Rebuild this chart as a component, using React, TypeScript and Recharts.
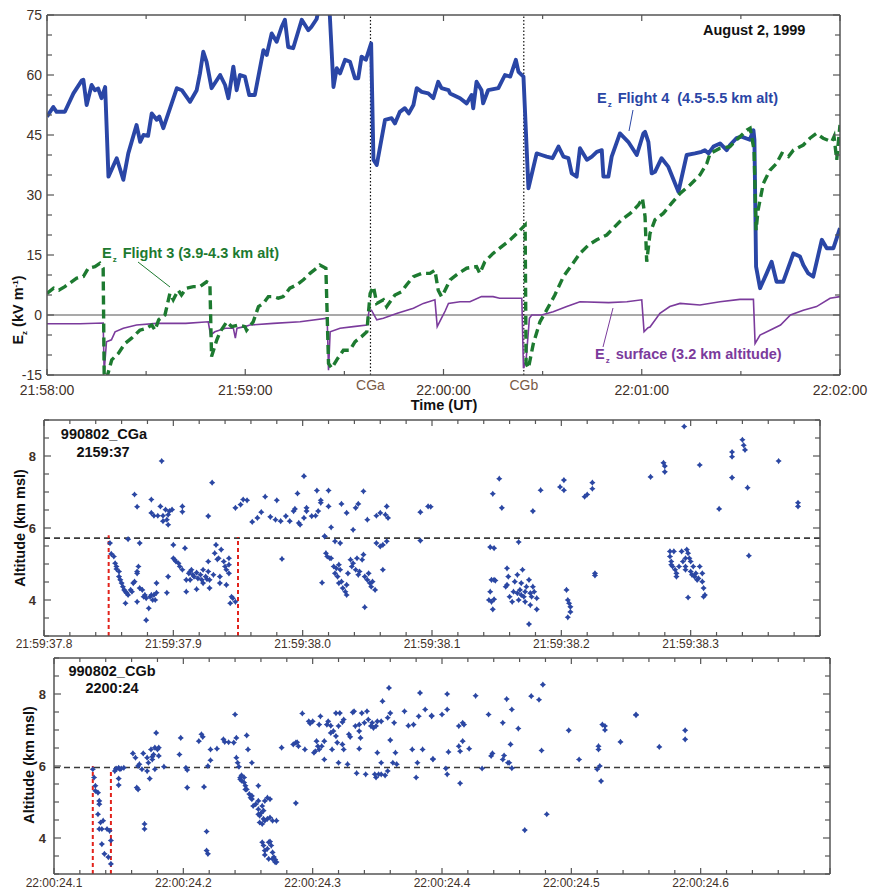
import React from "react";
import {
  Line,
  LineChart,
  ReferenceLine,
  Scatter,
  ScatterChart,
  XAxis,
  YAxis,
} from "recharts";

type Pair = [number, number];

const FONT = '"Liberation Sans", Arial, Helvetica, sans-serif';
const AXIS = "#555";
const TICK_TEXT = "#3f3128";
const CG_TEXT = "#7a5a46";
const BLUE = "#2a46a6";
const GREEN = "#1d7a30";
const PURPLE = "#7b3b9c";
const DOT = "#2b47a3";
const RED = "#e2231c";

// Ez records, seconds after 21:58:00 UT -> kV/m
const FLIGHT4: Pair[] = [
  [0, 49.6], [1.9, 52], [2.9, 50.8], [5.4, 50.8], [8, 55.4], [10.5, 58.6], [11, 58.8], [12, 52.5],
  [13.5, 57.5], [14.5, 56.2], [15.5, 56.6], [16.5, 54.2], [17.6, 57], [18.6, 34.6], [21.1, 39.2],
  [23.1, 33.8], [24.6, 40.4], [27.1, 47.5], [28.2, 43.3], [29.2, 45], [30.6, 44.8], [31.7, 50.4],
  [33.2, 48.8], [34, 49.6], [35.2, 46.7], [39.3, 56.7], [40.8, 56.2], [43.3, 53.3], [45.3, 56.2],
  [46.3, 60.4], [47.3, 65.8], [48.3, 63.3], [49.8, 56.7], [52.4, 60], [53.9, 57.5], [54.9, 54.2],
  [56.4, 62.1], [57.4, 56.2], [58.4, 60], [59.9, 59.6], [61.2, 55], [62.9, 55], [65.5, 66.2],
  [66.5, 65], [68, 70.4], [69.5, 68.3], [71, 72], [72, 73.8], [73, 67], [74.5, 66.7], [77.1, 73.8],
  [78.1, 72.5], [79.1, 71.2], [80, 72], [81.6, 74], [82.6, 78], [85.4, 78], [85.9, 70], [86.7, 57],
  [87.7, 61.7], [88.7, 60.4], [90.2, 63.8], [91.7, 63.3], [93.2, 59.2], [94.2, 59.2], [95.2, 64.6],
  [96.5, 63.8], [98.1, 67.9], [98.8, 38.8], [99.8, 37.5], [102.3, 48.8], [104.3, 49.2], [105.3, 47.9],
  [106.8, 50.8], [108.3, 51.7], [109.5, 50.4], [110.9, 52.5], [111.9, 56.7], [113.4, 55.8],
  [115.4, 55.4], [116.9, 54.2], [118.4, 58.3], [119.4, 56.7], [121.5, 56.2], [122, 55.4], [125, 54.2],
  [127, 52.9], [128.5, 55], [129, 51.7], [130, 58.3], [131.5, 56.2], [132, 52.9], [133.5, 56.2],
  [136.6, 56.7], [138.6, 60], [140.2, 59.6], [141.9, 63.8], [142.7, 60.8], [144.2, 59.6],
  [145.7, 31.7], [148.2, 40.4], [149.7, 40], [151.2, 39.6], [153, 39.2], [154.8, 42.1], [156.3, 39.6],
  [157.8, 39.2], [158.8, 35.4], [160.3, 34.6], [161.3, 41.7], [163.4, 38.8], [164.9, 39.6],
  [166.4, 40.8], [167.9, 41.2], [168.4, 34.6], [169.9, 34.6], [170.9, 39.6], [173.4, 45.4],
  [175.9, 43.3], [178.5, 40], [180.5, 45.4], [181, 45.8], [182, 43.3], [183, 35.4], [184, 35.8],
  [186, 39.2], [188, 37.1], [191.1, 30.8], [193.6, 40], [196.1, 40.4], [198.1, 40.8], [199.1, 41.2],
  [200.2, 40.4], [201.7, 42.1], [203.7, 42.9], [205.7, 41.2], [206.7, 42.5], [208.7, 44.2],
  [210.2, 44.6], [212.7, 43.8], [213.8, 46.2], [214.1, 43.8], [214.6, 12.1], [215.8, 6.7],
  [217.8, 10.4], [219.3, 13.3], [220.8, 8.3], [222.8, 8.3], [225.9, 15.4], [227.9, 14.6],
  [228.9, 12.5], [230.4, 10.4], [231.9, 9.6], [234.5, 18.8], [236, 16.7], [238, 16.7], [240, 21.7],
];

const FLIGHT3: Pair[] = [
  [0, 5.4], [2, 6.7], [3.6, 6.2], [5.4, 7.1], [9, 9.2], [11, 9.6], [12.5, 11.7], [14.5, 12.1],
  [16, 12.9], [17, 11.7], [17.3, -14.6], [18, -16], [19.6, -11.2], [21.6, -9.6], [23.6, -7.1],
  [25.6, -5.8], [28.1, -3.8], [30.2, -3.3], [31.7, -2.5], [32.7, -3.8], [33.8, -1.2], [35.7, 0],
  [37.2, 5.4], [38.2, 3.8], [39.7, 6.2], [40.7, 5], [42.2, 6.7], [44.3, 7.1], [46.3, 7.1], [48.3, 8.3],
  [49.3, 7.9], [49.8, -10.4], [51.4, -6.2], [52.4, -4.2], [54.4, -1.7], [55.9, -2.9], [57.9, -2.5],
  [59.9, -2.9], [60.4, -3.8], [62.4, -1.7], [64, 2.1], [65.5, 2.9], [67, 4.6], [68.5, 4.6], [70, 4.2],
  [71.5, 4.6], [73.5, 6.7], [75.5, 7.5], [77.6, 8.8], [79.6, 10.4], [81.6, 11.7], [82.6, 12.5],
  [84.4, 11.7], [85.2, -12.1], [86.2, -13.3], [87.7, -11.2], [89.7, -8.8], [91.7, -8.8], [93.2, -6.7],
  [95.2, -5.4], [96.8, -4.2], [97.8, 5.4], [98.8, 7.1], [99.8, 2.9], [101.8, 3.8], [102.8, 2.1],
  [105.3, 5], [107.3, 5.8], [108.8, 7.5], [110.9, 9.6], [113.4, 10.4], [115.9, 10.4], [117.4, 11.2],
  [118.4, 6.2], [119.4, 4.6], [120, 5.4], [122, 8.8], [124.5, 10.4], [127, 11.7], [130, 12.1],
  [131, 10.4], [132.5, 13.3], [135, 15.4], [137.6, 17.1], [140.2, 18.8], [142.2, 20.4], [144.7, 22.5],
  [145, -12.1], [145.7, -13.3], [147.2, -7.1], [149.2, -1.7], [151.2, 1.2], [153.7, 5], [156.3, 9.6],
  [158.8, 12.5], [161.3, 15.4], [163.9, 17.5], [166.4, 18.8], [169.4, 20], [171.4, 21.7],
  [173.9, 23.8], [176.5, 25.4], [179, 27.5], [180.2, 29.2], [181, 24.6], [181.5, 13.3], [182.5, 20.4],
  [184, 23.8], [186.5, 25.4], [189, 27.9], [191.6, 30.4], [194.6, 32.5], [197.6, 35], [199.7, 37.9],
  [200.7, 40.4], [203.7, 41.7], [206.7, 42.1], [209.2, 44.2], [211.8, 46.2], [212.8, 46.7], [214, 41.2],
  [214.6, 21.2], [215.2, 26.2], [216.8, 32.9], [218.8, 36.2], [220.8, 37.9], [222.4, 40.4],
  [224.4, 39.6], [225.9, 41.2], [228.9, 42.5], [230.9, 44.2], [232.9, 45.4], [234.9, 44.2],
  [237.5, 43.3], [238.2, 44.6], [239, 38.8], [240, 47.5],
];

const SURFACE: Pair[] = [
  [0, -2.2], [10, -2.2], [17, -2], [17.3, -14.2], [18, -6.7], [19.5, -6.2], [20.6, -4.2], [23.1, -3.3],
  [27.1, -2.5], [33.2, -2.1], [42, -2.1], [48.8, -1.7], [49.5, -5], [50.8, -4.2], [54, -3.3],
  [56.4, -3.3], [57, -5.8], [57.5, -3.3], [59.9, -2.9], [61.4, -2.5], [68.5, -2.1], [76.6, -1.7],
  [84.8, -0.8], [85.2, -13.8], [85.7, -4.2], [88.7, -3.3], [92.7, -2.9], [96.8, -2.5], [97.5, 1.2],
  [98.2, 1.2], [99.8, -1.2], [101.8, -0.8], [105.8, 0.4], [110.9, 1.7], [113.9, 2.9], [117.4, 3.8],
  [118.1, -2.9], [119.4, -0.8], [120.5, 1], [121.5, 2.9], [125, 3.3], [128, 3.3], [131.5, 4.6],
  [135, 4.6], [137, 4.2], [143.7, 4.2], [144.2, -13.3], [145, -11.2], [146, -0.8], [146.7, 0],
  [149.7, 0], [153.2, 0.8], [157.3, 2.1], [161.3, 3.3], [170, 3.1], [175.5, 3.3], [180, 3.8],
  [180.7, -4.2], [181.9, -3.2], [182.5, -3], [185.5, 0.4], [188.5, 2.1], [191.6, 2.9], [197.6, 2.5],
  [203.7, 3.3], [209.7, 3.9], [213.8, 3.9], [214.3, -7.1], [215.8, -5], [218.8, -3.8], [222, -2.5],
  [225, 0], [228.9, 1.2], [232.9, 2.1], [237, 4.2], [240, 4.6],
];

const CGA_SEC = 97.9;
const CGB_SEC = 144.3;

const TIME_TICKS = [0, 30, 60, 90, 120, 150, 180, 210, 240];
const TIME_LABELS: Record<number, string> = {
  0: "21:58:00",
  60: "21:59:00",
  120: "22:00:00",
  180: "22:01:00",
  240: "22:02:00",
};
const CG_LABELS: Record<number, string> = { [CGA_SEC]: "CGa", [CGB_SEC]: "CGb" };
const EZ_TICKS = [-15, -10, -5, 0, 5, 10, 15, 20, 25, 30, 35, 40, 45, 50, 55, 60, 65, 70, 75];
const EZ_LABELS = [-15, 0, 15, 30, 45, 60, 75];

// VHF source locations: seconds within the minute -> altitude km msl
const CGA_SOURCES: Pair[] = [
  [37.87, 6.93], [37.872, 6.59], [37.883, 6.79], [37.883, 6.42], [37.885, 6.34], [37.888, 6.34],
  [37.89, 6.6], [37.891, 7.86], [37.892, 6.19], [37.892, 6.34], [37.894, 6.51], [37.895, 6.23],
  [37.896, 6.09], [37.896, 6.37], [37.897, 6.47], [37.899, 6.51], [37.907, 6.6], [37.907, 6.45],
  [37.927, 6.33], [37.93, 7.26],
  [37.948, 6.56], [37.952, 6.65], [37.954, 6.79], [37.957, 6.77], [37.961, 6.17], [37.965, 6.28],
  [37.968, 6.44], [37.971, 6.87], [37.975, 6.31], [37.979, 6.23], [37.98, 6.77], [37.983, 6.19],
  [37.984, 5.14], [37.987, 6.33], [37.99, 6.19], [37.993, 6.47], [37.994, 6.53], [37.996, 6.96],
  [37.997, 6.14], [37.998, 6.09], [38.001, 6.28], [38.001, 7.44], [38.003, 6.56], [38.003, 6.47],
  [38.007, 6.33], [38.01, 6.34], [38.011, 7.04], [38.012, 6.47], [38.014, 6.7], [38.014, 6.77],
  [38.02, 7.04], [38.02, 6.6], [38.022, 6.02], [38.017, 5.77], [38.03, 6.67], [38.034, 6.42],
  [38.039, 5.95], [38.041, 6.56], [38.043, 6.67], [38.047, 7.02], [38.05, 6.23], [38.057, 6.34],
  [38.06, 6.42], [38.064, 6.37], [38.065, 6.6], [38.066, 6.28], [38.091, 6.44], [38.091, 5.65],
  [38.097, 6.6],
  [37.851, 5.58], [37.852, 5.28], [37.854, 5.21], [37.855, 5.02], [37.856, 4.93], [37.856, 4.86],
  [37.858, 4.79], [37.858, 4.65], [37.859, 4.56], [37.86, 4.47], [37.861, 4.37], [37.862, 4.28],
  [37.863, 4.23], [37.864, 4.19], [37.865, 4.14], [37.863, 3.91], [37.867, 4.28], [37.868, 4.23],
  [37.869, 4.47], [37.87, 4.51], [37.872, 3.95], [37.872, 4.79], [37.873, 4.93], [37.874, 4.33],
  [37.876, 4.28], [37.877, 4.09], [37.878, 4.14], [37.879, 4.05], [37.881, 3.77], [37.882, 4.09],
  [37.883, 4.14], [37.884, 4.0], [37.885, 4.14], [37.886, 4.0], [37.887, 4.2], [37.879, 3.44],
  [37.874, 5.58], [37.887, 4.47], [37.872, 4.74], [37.865, 5.69],
  [37.895, 4.2], [37.896, 4.65], [37.9, 5.53], [37.901, 5.12], [37.902, 5.07], [37.904, 5.02],
  [37.905, 4.93], [37.907, 4.84], [37.9, 5.16], [37.909, 5.44], [37.91, 4.56], [37.912, 4.74],
  [37.913, 4.79], [37.914, 4.84], [37.915, 4.7], [37.916, 4.65], [37.918, 4.76], [37.919, 4.6],
  [37.921, 4.7], [37.922, 4.56], [37.923, 4.84], [37.925, 4.65], [37.926, 4.58], [37.927, 4.79],
  [37.918, 4.3], [37.927, 5.07], [37.928, 4.56], [37.931, 4.7], [37.932, 5.3], [37.933, 5.53],
  [37.934, 5.13], [37.935, 5.16], [37.936, 4.65], [37.937, 5.4], [37.939, 5.07], [37.94, 4.93],
  [37.941, 4.84], [37.943, 4.98], [37.943, 5.16], [37.941, 4.42], [37.936, 4.47], [37.928, 4.33],
  [37.943, 4.74], [37.944, 3.91], [37.945, 4.09], [37.946, 4.05], [37.948, 3.95], [37.91, 4.23],
  [37.913, 4.56], [37.923, 4.47],
  [38.015, 4.48], [38.017, 5.77], [38.018, 5.3], [38.019, 5.21], [38.021, 5.16], [38.022, 5.16],
  [38.024, 4.93], [38.025, 4.74], [38.026, 4.88], [38.027, 4.65], [38.028, 4.98], [38.028, 4.47],
  [38.029, 4.84], [38.03, 4.51], [38.031, 4.33], [38.033, 4.23], [38.034, 4.14], [38.035, 4.74],
  [38.037, 5.12], [38.038, 4.93], [38.039, 5.02], [38.041, 4.84], [38.042, 5.16], [38.043, 4.7],
  [38.044, 4.79], [38.046, 5.12], [38.047, 5.26], [38.048, 4.65], [38.05, 4.56], [38.051, 4.74],
  [38.052, 4.47], [38.053, 4.37], [38.048, 3.8], [38.025, 5.63], [38.029, 5.58], [38.057, 5.58],
  [38.06, 5.49], [38.062, 5.53], [38.065, 5.63], [38.034, 4.42], [38.054, 4.51], [38.056, 4.28],
  [38.062, 4.84],
  [38.099, 6.59], [38.147, 6.95], [38.152, 7.37], [38.154, 6.56], [38.178, 6.47], [38.184, 7.05],
  [38.199, 7.14], [38.202, 7.33], [38.202, 7.05], [38.218, 6.87], [38.22, 6.93], [38.224, 7.26],
  [38.224, 7.09], [38.269, 7.42], [38.279, 7.81], [38.28, 7.72], [38.28, 7.56], [38.295, 8.82],
  [38.307, 7.75], [38.322, 6.53], [38.332, 8.11], [38.332, 7.98], [38.332, 7.4], [38.34, 8.45],
  [38.341, 8.3], [38.342, 8.17], [38.344, 7.12], [38.368, 7.86], [38.383, 6.7], [38.383, 6.6],
  [38.145, 5.47], [38.148, 5.44], [38.167, 5.61], [38.345, 5.23],
  [38.145, 4.23], [38.144, 4.0], [38.146, 4.56], [38.148, 4.56], [38.149, 4.54], [38.146, 3.95],
  [38.147, 3.74], [38.148, 4.02], [38.158, 4.88], [38.157, 4.37], [38.159, 4.65], [38.16, 4.09],
  [38.162, 3.95], [38.163, 4.23], [38.164, 4.51], [38.166, 4.19], [38.166, 4.7], [38.168, 4.28],
  [38.169, 4.14], [38.169, 4.47], [38.17, 4.84], [38.171, 4.09], [38.172, 4.23], [38.173, 4.37],
  [38.175, 4.56], [38.176, 4.19], [38.176, 3.86], [38.177, 4.09], [38.178, 4.37], [38.179, 4.23],
  [38.181, 4.05], [38.181, 3.74], [38.175, 3.33], [38.158, 4.42], [38.167, 4.0], [38.172, 3.95],
  [38.204, 4.28], [38.205, 4.0], [38.206, 3.91], [38.207, 3.81], [38.207, 3.67], [38.205, 3.52],
  [38.226, 4.74], [38.226, 4.68],
  [38.284, 5.35], [38.284, 5.21], [38.285, 5.07], [38.285, 4.98], [38.286, 4.93], [38.287, 5.35],
  [38.288, 4.84], [38.289, 4.74], [38.289, 4.65], [38.293, 5.35], [38.294, 5.07], [38.296, 4.93],
  [38.296, 4.84], [38.297, 5.4], [38.298, 5.3], [38.299, 5.16], [38.3, 5.07], [38.3, 4.79],
  [38.301, 4.7], [38.302, 4.93], [38.303, 4.65], [38.304, 4.74], [38.305, 4.56], [38.306, 4.6],
  [38.307, 4.93], [38.309, 4.74], [38.309, 4.51], [38.31, 4.33], [38.311, 4.14], [38.31, 4.09],
  [38.298, 4.07], [38.296, 5.16], [38.291, 4.93],
];

const CGB_SOURCES: Pair[] = [
  [24.13, 5.91], [24.131, 5.68], [24.132, 5.45], [24.132, 5.31], [24.134, 5.26], [24.135, 5.03],
  [24.135, 4.94], [24.134, 4.66], [24.136, 4.43], [24.137, 4.25], [24.135, 4.25], [24.138, 4.48],
  [24.137, 3.83], [24.139, 3.56], [24.141, 4.25], [24.142, 3.47], [24.144, 3.28], [24.144, 3.93],
  [24.143, 4.2],
  [24.147, 5.86], [24.148, 5.93], [24.148, 5.91], [24.15, 5.95], [24.15, 5.65], [24.151, 5.91],
  [24.152, 5.93], [24.15, 5.47], [24.154, 5.95], [24.161, 6.35], [24.163, 6.23], [24.164, 5.4],
  [24.165, 5.35], [24.165, 6.0], [24.166, 6.05], [24.168, 5.91], [24.169, 6.35], [24.17, 4.39],
  [24.17, 4.25], [24.172, 6.23], [24.172, 5.86], [24.173, 6.09], [24.174, 5.65], [24.175, 6.46],
  [24.176, 6.26], [24.176, 6.18], [24.177, 6.32], [24.178, 5.91], [24.178, 6.51], [24.179, 6.92],
  [24.18, 6.46], [24.181, 6.28], [24.181, 6.51], [24.185, 5.98], [24.197, 6.32], [24.198, 6.78],
  [24.202, 5.95], [24.203, 5.89], [24.203, 5.4], [24.212, 6.69], [24.214, 6.88], [24.215, 6.81],
  [24.216, 5.42], [24.218, 4.18], [24.218, 3.65], [24.219, 3.56], [24.219, 6.0], [24.221, 6.46],
  [24.221, 6.16], [24.226, 6.48], [24.231, 6.74], [24.232, 6.67], [24.235, 6.66], [24.239, 6.65],
  [24.241, 6.78], [24.24, 7.43], [24.241, 6.23], [24.242, 6.09], [24.243, 5.98], [24.244, 5.68],
  [24.244, 5.63], [24.245, 5.59], [24.247, 5.54], [24.248, 5.35], [24.249, 5.35], [24.249, 6.85],
  [24.25, 6.46], [24.248, 5.45], [24.247, 5.68], [24.245, 5.74], [24.251, 5.22], [24.252, 5.12],
  [24.253, 5.08], [24.253, 5.17], [24.254, 4.89], [24.256, 4.94], [24.258, 5.45], [24.258, 4.8],
  [24.258, 4.66], [24.259, 4.62], [24.26, 4.69], [24.261, 4.89], [24.262, 4.76], [24.263, 5.03],
  [24.265, 5.12], [24.258, 5.03], [24.259, 4.43], [24.261, 4.39], [24.262, 4.53], [24.263, 4.48],
  [24.265, 4.53], [24.267, 4.57], [24.267, 5.08], [24.269, 4.48], [24.272, 4.48], [24.261, 3.88],
  [24.262, 3.79], [24.263, 3.65], [24.265, 3.7], [24.266, 3.88], [24.267, 3.9], [24.268, 3.79],
  [24.269, 3.6], [24.27, 3.47], [24.271, 3.4], [24.271, 3.33], [24.272, 3.33], [24.263, 3.53],
  [24.266, 3.42], [24.269, 3.42], [24.253, 6.09], [24.276, 6.51], [24.287, 4.97],
  [24.285, 6.6], [24.287, 6.65], [24.288, 6.66], [24.289, 6.55], [24.292, 7.46], [24.294, 6.46],
  [24.297, 7.24], [24.298, 7.18], [24.3, 7.24], [24.301, 6.37], [24.302, 6.41], [24.303, 6.69],
  [24.304, 6.55], [24.305, 6.46], [24.305, 7.15], [24.306, 7.38], [24.307, 6.55], [24.309, 6.69],
  [24.309, 6.18], [24.311, 7.15], [24.312, 7.24], [24.314, 7.12], [24.314, 6.92], [24.315, 6.46],
  [24.316, 6.97], [24.318, 7.47], [24.318, 6.83], [24.319, 6.65], [24.32, 6.09], [24.32, 7.11],
  [24.321, 7.47], [24.323, 7.22], [24.323, 6.6], [24.324, 6.46], [24.324, 7.29], [24.327, 6.05],
  [24.328, 6.88], [24.329, 6.81], [24.331, 7.49], [24.332, 7.52], [24.333, 7.11], [24.334, 5.8],
  [24.336, 6.48], [24.336, 6.97], [24.336, 7.15], [24.337, 6.78], [24.338, 7.47], [24.34, 7.2],
  [24.341, 5.77], [24.342, 7.52], [24.343, 7.29], [24.345, 7.11], [24.346, 7.2], [24.347, 7.06],
  [24.349, 5.68], [24.349, 7.11], [24.35, 7.24], [24.35, 6.37], [24.351, 5.77], [24.353, 7.24],
  [24.353, 6.09], [24.354, 7.8], [24.356, 5.74], [24.358, 7.34], [24.359, 8.17], [24.36, 7.47],
  [24.36, 6.72], [24.362, 6.09], [24.363, 7.2], [24.364, 6.37], [24.365, 6.05], [24.371, 7.52],
  [24.374, 7.12], [24.377, 6.46], [24.378, 7.15], [24.38, 5.68], [24.381, 6.09], [24.382, 7.38],
  [24.383, 8.03], [24.385, 6.46], [24.387, 7.57], [24.392, 7.38], [24.393, 6.18], [24.358, 5.86],
  [24.353, 5.77], [24.348, 5.77],
  [24.392, 7.4], [24.393, 6.2], [24.4, 7.43], [24.403, 5.93], [24.404, 8.0], [24.404, 5.77],
  [24.404, 7.57], [24.405, 6.39], [24.413, 7.11], [24.413, 6.55], [24.414, 6.41], [24.414, 5.52],
  [24.416, 7.2], [24.416, 6.69], [24.417, 7.15], [24.421, 6.48], [24.426, 7.95], [24.431, 5.93],
  [24.436, 7.43], [24.438, 6.28], [24.439, 6.35], [24.447, 7.2], [24.447, 6.18], [24.448, 6.29],
  [24.45, 7.86], [24.451, 6.09], [24.452, 6.09], [24.453, 6.6], [24.454, 7.57], [24.454, 5.94],
  [24.459, 7.04], [24.464, 4.22], [24.469, 7.94], [24.475, 7.84], [24.477, 6.43], [24.478, 8.26],
  [24.481, 4.66], [24.498, 6.99], [24.506, 6.18], [24.52, 5.91], [24.521, 6.46], [24.521, 6.55],
  [24.522, 6.0], [24.523, 5.58], [24.524, 7.15], [24.526, 7.11], [24.526, 7.0], [24.538, 6.67],
  [24.55, 7.41], [24.55, 7.43], [24.568, 6.53], [24.588, 6.99], [24.588, 6.74],
];

const ALT_TICKS = [3, 3.5, 4, 4.5, 5, 5.5, 6, 6.5, 7, 7.5, 8, 8.5, 9];
const ALT_LABELS = [4, 6, 8];

function stepTicks(from: number, to: number, step: number): number[] {
  const n = Math.round((to - from) / step);
  return Array.from({ length: n + 1 }, (_, i) => +(from + i * step).toFixed(3));
}

const isTenth = (v: number) => Math.abs(v * 10 - Math.round(v * 10)) < 1e-6;
const rows = (pairs: Pair[]) => pairs.map(([t, v]) => ({ t, v }));

// Inward tick marks with optional text, for each side of a boxed plot
function xTick(side: "top" | "bottom", major: (v: number) => boolean, label?: (v: number) => string | null, textDy = 14, fontSize = 12) {
  return (p: any) => {
    const v = p.payload.value;
    const cg = side === "bottom" ? CG_LABELS[v] : undefined;
    const dir = side === "bottom" ? -1 : 1;
    const text = side === "bottom" && label ? label(v) : null;
    return (
      <g>
        {!cg && (
          <line x1={p.x} x2={p.x} y1={p.y} y2={p.y + dir * (major(v) ? 6 : 4)} stroke={AXIS} strokeWidth={1.2} />
        )}
        {cg && (
          <text x={p.x} y={p.y + 15} textAnchor="middle" fontSize={14} fill={CG_TEXT} fontFamily={FONT}>
            {cg}
          </text>
        )}
        {text && (
          <text x={p.x} y={p.y + textDy} textAnchor="middle" fontSize={fontSize} fill={TICK_TEXT} fontFamily={FONT}>
            {text}
          </text>
        )}
      </g>
    );
  };
}

function yTick(side: "left" | "right", major: (v: number) => boolean, label?: (v: number) => string | null, gap = 5, fontSize = 14, bold = false) {
  return (p: any) => {
    const v = p.payload.value;
    const dir = side === "left" ? 1 : -1;
    const text = side === "left" && label ? label(v) : null;
    return (
      <g>
        <line x1={p.x} x2={p.x + dir * (major(v) ? 7 : 5)} y1={p.y} y2={p.y} stroke={AXIS} strokeWidth={1.2} />
        {text && (
          <text x={p.x - gap} y={p.y} dy="0.36em" textAnchor="end" fontSize={fontSize} fontWeight={bold ? "bold" : "normal"} fill={TICK_TEXT} fontFamily={FONT}>
            {text}
          </text>
        )}
      </g>
    );
  };
}

function FieldChart() {
  const timeMajor = (v: number) => v in TIME_LABELS;
  const ezMajor = (v: number) => EZ_LABELS.includes(v);
  const common = { type: "number" as const, allowDataOverflow: true, stroke: AXIS, strokeWidth: 1.5, tickSize: 0, tickMargin: 0, interval: 0 as const };
  return (
    <LineChart width={872} height={420} margin={{ top: 14, right: 30, bottom: 0, left: 0 }}>
      <XAxis xAxisId="b" dataKey="t" domain={[0, 240]} ticks={[...TIME_TICKS, CGA_SEC, CGB_SEC]} height={45}
        tick={xTick("bottom", timeMajor, (v) => TIME_LABELS[v] ?? null, 20, 14)} {...common} />
      <XAxis xAxisId="t" orientation="top" dataKey="t" domain={[0, 240]} ticks={TIME_TICKS} height={1}
        tick={xTick("top", timeMajor)} {...common} />
      <YAxis yAxisId="l" dataKey="v" domain={[-15, 75]} ticks={EZ_TICKS} width={47}
        tick={yTick("left", ezMajor, (v) => (ezMajor(v) ? String(v) : null), 5, 14)} {...common} />
      <YAxis yAxisId="r" orientation="right" dataKey="v" domain={[-15, 75]} ticks={EZ_TICKS} width={2}
        tick={yTick("right", ezMajor)} {...common} />
      <ReferenceLine xAxisId="b" yAxisId="l" y={0} stroke="#8c8c8c" strokeWidth={1.5} />
      <ReferenceLine xAxisId="b" yAxisId="l" x={CGA_SEC} stroke="#111" strokeWidth={1.2} strokeDasharray="1.5 2" />
      <ReferenceLine xAxisId="b" yAxisId="l" x={CGB_SEC} stroke="#111" strokeWidth={1.2} strokeDasharray="1.5 2" />
      <Line xAxisId="b" yAxisId="l" data={rows(SURFACE)} dataKey="v" stroke={PURPLE} strokeWidth={1.6}
        dot={false} isAnimationActive={false} />
      <Line xAxisId="b" yAxisId="l" data={rows(FLIGHT4)} dataKey="v" stroke={BLUE} strokeWidth={3.9}
        strokeLinejoin="round" dot={false} isAnimationActive={false} />
      <Line xAxisId="b" yAxisId="l" data={rows(FLIGHT3)} dataKey="v" stroke={GREEN} strokeWidth={3.4}
        strokeDasharray="9 5" dot={false} isAnimationActive={false} />
    </LineChart>
  );
}

const Source = (p: any) => {
  const { cx, cy } = p;
  if (cx == null || cy == null) return <g />;
  const a = 3.1;
  const b = 1.3;
  return (
    <path
      d={`M${cx},${cy - a}L${cx + b},${cy - b}L${cx + a},${cy}L${cx + b},${cy + b}L${cx},${cy + a}L${cx - b},${cy + b}L${cx - a},${cy}L${cx - b},${cy - b}Z`}
      fill={DOT}
    />
  );
};

type PanelProps = {
  top: number;
  height: number;
  marginTop: number;
  bottomH: number;
  left: number;
  marginRight: number;
  domain: [number, number];
  minute: string;
  points: Pair[];
  leaders: Pair[];
  level: number;
  labelDy: number;
};

function SourcePanel({ top, height, marginTop, bottomH, left, marginRight, domain, minute, points, leaders, level, labelDy }: PanelProps) {
  const xt = stepTicks(domain[0], domain[1], 0.02);
  const altMajor = (v: number) => ALT_LABELS.includes(v);
  // the right-hand edge of the time axis carries a tick but no label
  const timeLabel = (v: number) => (isTenth(v) && v < domain[1] - 1e-6 ? `${minute}${v.toFixed(1)}` : null);
  const common = { type: "number" as const, allowDataOverflow: true, stroke: AXIS, strokeWidth: 1.5, tickSize: 0, tickMargin: 0, interval: 0 as const };
  const data = points.map(([t, alt]) => ({ t, alt }));
  return (
    <div style={{ position: "absolute", left: 0, top }}>
      <ScatterChart width={872} height={height} margin={{ top: marginTop, right: marginRight, bottom: 0, left: 0 }}>
        <XAxis xAxisId="b" dataKey="t" domain={domain} ticks={xt} height={bottomH}
          tick={xTick("bottom", isTenth, timeLabel, labelDy, 12)} {...common} />
        <XAxis xAxisId="t" orientation="top" dataKey="t" domain={domain} ticks={xt} height={1}
          tick={xTick("top", isTenth)} {...common} />
        <YAxis yAxisId="l" dataKey="alt" domain={[3, 9]} ticks={ALT_TICKS} width={left}
          tick={yTick("left", altMajor, (v) => (altMajor(v) ? String(v) : null), 8, 13, true)} {...common} />
        <YAxis yAxisId="r" orientation="right" dataKey="alt" domain={[3, 9]} ticks={ALT_TICKS} width={2}
          tick={yTick("right", altMajor)} {...common} />
        <ReferenceLine xAxisId="b" yAxisId="l" y={level} stroke="#3a3a3a" strokeWidth={1.6} strokeDasharray="6 4" />
        {leaders.map(([t, h]) => (
          <ReferenceLine key={t} xAxisId="b" yAxisId="l" segment={[{ x: t, y: 3 }, { x: t, y: h }]}
            stroke={RED} strokeWidth={2} strokeDasharray="4 3" />
        ))}
        <Scatter xAxisId="b" yAxisId="l" data={data} shape={Source} isAnimationActive={false} />
      </ScatterChart>
    </div>
  );
}

function Note({ x, y, color, text }: { x: number; y: number; color: string; text: string }) {
  return (
    <text x={x} y={y} fontSize={14.5} fontWeight="bold" fill={color} style={{ whiteSpace: "pre" }}>
      E
      <tspan dy={4} dx={1} fontSize={8}>z</tspan>
      <tspan dy={-4} dx={6}>{text}</tspan>
    </text>
  );
}

export default function App() {
  return (
    <div style={{ position: "absolute", left: 0, top: 0, width: 872, height: 889, background: "#fff", fontFamily: FONT }}>
      <div style={{ position: "absolute", left: 0, top: 0 }}>
        <FieldChart />
      </div>
      <SourcePanel top={410} height={250} marginTop={9} bottomH={24} left={44} marginRight={50}
        domain={[37.8, 38.4]} minute="21:59:" points={CGA_SOURCES}
        leaders={[[37.85, 5.8], [37.95, 5.75]]} level={5.72} labelDy={12} />
      <SourcePanel top={650} height={239} marginTop={7} bottomH={15} left={54} marginRight={40}
        domain={[24.1, 24.7]} minute="22:00:" points={CGB_SOURCES}
        leaders={[[24.13, 6.0], [24.144, 5.85]]} level={5.96} labelDy={13} />
      <svg width={872} height={889} style={{ position: "absolute", left: 0, top: 0, pointerEvents: "none", fontFamily: FONT }}>
        <text x={703} y={35} fontSize={14.5} fontWeight="bold" fill="#111">August 2, 1999</text>
        <Note x={597} y={103} color={BLUE} text="Flight 4  (4.5-5.5 km alt)" />
        <Note x={102} y={258} color={GREEN} text="Flight 3 (3.9-4.3 km alt)" />
        <Note x={595} y={359} color={PURPLE} text="surface (3.2 km altitude)" />
        <line x1={633} y1={110} x2={629} y2={131} stroke={BLUE} strokeWidth={1} />
        <line x1={138} y1={262} x2={170} y2={287} stroke={GREEN} strokeWidth={1} />
        <line x1={613} y1={308} x2={603} y2={347} stroke={PURPLE} strokeWidth={1} />
        <text x={444} y={410} textAnchor="middle" fontSize={14.5} fontWeight="bold" fill="#111">Time (UT)</text>
        <text transform="translate(23,310) rotate(-90)" textAnchor="middle" fontSize={14.5} fontWeight="bold" fill="#111">
          E<tspan dy={4} fontSize={8}>z</tspan>
          <tspan dy={-4}> (kV m</tspan>
          <tspan dy={-5} fontSize={8}>-1</tspan>
          <tspan dy={5}>)</tspan>
        </text>
        <text x={104} y={439} textAnchor="middle" fontSize={14.5} fontWeight="bold" fill="#111">990802_CGa</text>
        <text x={103} y={457} textAnchor="middle" fontSize={14.5} fontWeight="bold" fill="#111">2159:37</text>
        <text transform="translate(25,528) rotate(-90)" textAnchor="middle" fontSize={14.5} fontWeight="bold" fill="#111">
          Altitude (km msl)
        </text>
        <text x={112} y={676} textAnchor="middle" fontSize={14.5} fontWeight="bold" fill="#111">990802_CGb</text>
        <text x={112} y={693} textAnchor="middle" fontSize={14.5} fontWeight="bold" fill="#111">2200:24</text>
        <text transform="translate(34,765) rotate(-90)" textAnchor="middle" fontSize={14.5} fontWeight="bold" fill="#111">
          Altitude (km msl)
        </text>
      </svg>
    </div>
  );
}
